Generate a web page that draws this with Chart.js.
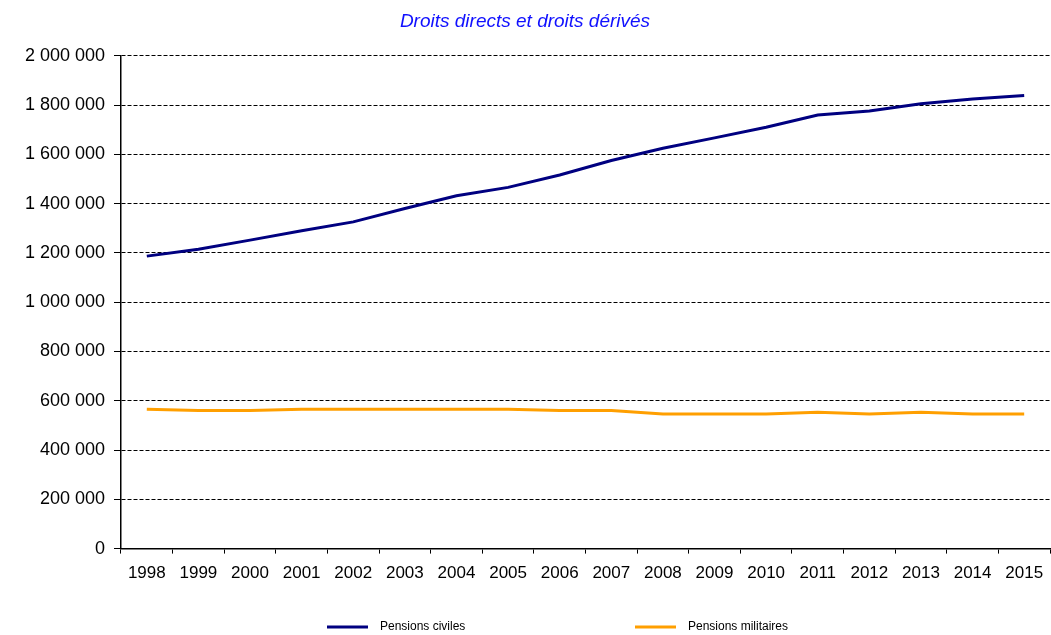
<!DOCTYPE html>
<html>
<head>
<meta charset="utf-8">
<script src="https://cdn.jsdelivr.net/npm/chart.js@4"></script>
<style>
  html, body { margin: 0; padding: 0; background: #fff; }
  #wrap { width: 1051px; height: 635px; }
</style>
</head>
<body>
<div id="wrap"><canvas id="myChart"></canvas></div>
<script>
const years = ['1998', '1999', '2000', '2001', '2002', '2003', '2004', '2005', '2006',
    '2007', '2008', '2009', '2010', '2011', '2012', '2013', '2014', '2015'];
const pensionsCiviles = [1187000, 1215000, 1252000, 1290000, 1326000, 1380000, 1432000, 1466000, 1516000,
    1575000, 1625000, 1667000, 1710000, 1760000, 1776000, 1805000, 1825000, 1839000];
const pensionsMilitaires = [566000, 560000, 560000, 566000, 566000, 566000, 566000, 566000, 560000,
    560000, 546000, 546000, 546000, 553000, 546000, 553000, 546000, 546000];
const titre = 'Droits directs et droits dérivés';

// legend drawn by hand, the two items sit far apart in the original
const bottomLegend = {
    id: 'bottomLegend',
    afterDraw(chart) {
        const ctx = chart.ctx;
        const y = 627;
        const spots = [327, 635];
        ctx.save();
        ctx.font = '12px "Liberation Sans", Arial, sans-serif';
        ctx.textBaseline = 'middle';
        chart.data.datasets.forEach((ds, i) => {
            const x = spots[i];
            ctx.strokeStyle = ds.borderColor;
            ctx.lineWidth = 3;
            ctx.beginPath();
            ctx.moveTo(x, y);
            ctx.lineTo(x + 41, y);
            ctx.stroke();
            ctx.fillStyle = '#000';
            ctx.fillText(ds.label, x + 53, y);
        });
        ctx.restore();
    }
};

const ctx = document.getElementById('myChart').getContext('2d');
const myChart = new Chart(ctx, {
    type: 'line',
    data: {
        labels: years,
        datasets: [{
            label: 'Pensions civiles',
            data: pensionsCiviles,
            borderColor: '#000080',
            borderWidth: 3,
            pointRadius: 0,
            tension: 0
        }, {
            label: 'Pensions militaires',
            data: pensionsMilitaires,
            borderColor: '#ff9f00',
            borderWidth: 3,
            pointRadius: 0,
            tension: 0
        }]
    },
    options: {
        responsive: true,
        maintainAspectRatio: false,
        animation: false,
        layout: { padding: { top: 0, right: 1, bottom: 41, left: 0 } },
        plugins: {
            legend: { display: false },
            tooltip: { enabled: false },
            title: {
                display: true,
                text: titre,
                color: '#1010ff',
                font: { family: '"Liberation Sans", Arial, sans-serif', size: 19, style: 'italic', weight: 'normal' },
                padding: { top: 10, bottom: 23 }
            }
        },
        scales: {
            x: {
                offset: true,
                afterFit(scale) { scale.paddingLeft = 0; scale.paddingRight = 0; },
                grid: {
                    offset: true,
                    drawOnChartArea: false,
                    tickLength: 5,
                    tickColor: '#000',
                    tickWidth: 1
                },
                border: { display: true, color: '#000', width: 1.5 },
                ticks: {
                    color: '#000',
                    padding: 10,
                    maxRotation: 0,
                    autoSkip: false,
                    font: { family: '"Liberation Sans", Arial, sans-serif', size: 17 }
                }
            },
            y: {
                min: 0,
                max: 2000000,
                afterFit(scale) { scale.width = 121; },
                grid: {
                    color: '#000',
                    lineWidth: 1,
                    tickLength: 7,
                    tickColor: '#000',
                    tickBorderDash: [],
                    tickWidth: 1
                },
                border: { display: true, color: '#000', width: 1.5, dash: [4, 2] },
                ticks: {
                    stepSize: 200000,
                    color: '#000',
                    padding: 9,
                    font: { family: '"Liberation Sans", Arial, sans-serif', size: 18 },
                    callback: (v) => String(v).replace(/\B(?=(\d{3})+(?!\d))/g, ' ')
                }
            }
        }
    },
    plugins: [bottomLegend]
});
</script>
</body>
</html>
